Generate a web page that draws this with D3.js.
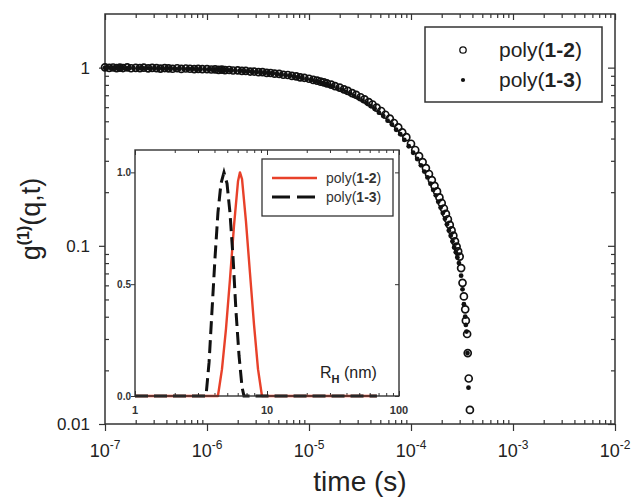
<!DOCTYPE html>
<html><head><meta charset="utf-8">
<script src="https://cdn.jsdelivr.net/npm/d3@7"></script>
<style>body{margin:0;background:#fff}svg{display:block;font-family:Arial,'Liberation Sans',sans-serif}</style>
</head><body>
<script>
// ---------- DATA ----------
// poly(1-2) (open circles): correlator delay times (s) and g1 values
const time12 = [
1.0e-7,1.1e-7,1.2e-7,1.3e-7,1.4e-7,1.5e-7,1.65e-7,1.8e-7,2.0e-7,2.2e-7,2.4e-7,2.65e-7,2.9e-7,3.2e-7,3.5e-7,3.85e-7,4.2e-7,4.6e-7,5.1e-7,5.6e-7,6.2e-7,6.8e-7,7.5e-7,8.2e-7,9.0e-7,
1.0e-6,1.1e-6,1.2e-6,1.3e-6,1.4e-6,1.5e-6,1.65e-6,1.8e-6,2.0e-6,2.2e-6,2.4e-6,2.65e-6,2.9e-6,3.2e-6,3.5e-6,3.85e-6,4.2e-6,4.6e-6,5.1e-6,5.6e-6,6.2e-6,6.8e-6,7.5e-6,8.2e-6,9.0e-6,
1.0e-5,1.1e-5,1.2e-5,1.3e-5,1.4e-5,1.5e-5,1.65e-5,1.8e-5,2.0e-5,2.2e-5,2.4e-5,2.65e-5,2.9e-5,3.2e-5,3.5e-5,3.85e-5,4.2e-5,4.6e-5,5.1e-5,5.6e-5,6.2e-5,6.8e-5,7.5e-5,8.2e-5,9.0e-5,
1.0e-4,1.1e-4,1.2e-4,1.3e-4,1.4e-4,1.5e-4,1.6e-4,1.7e-4,1.8e-4,1.9e-4,2.0e-4,2.1e-4,2.2e-4,2.3e-4,2.4e-4,2.5e-4,2.6e-4,2.7e-4,2.8e-4,2.9e-4,3.0e-4,
3.1e-4,3.2e-4,3.3e-4,3.4e-4,3.45e-4,3.55e-4,3.6e-4,3.68e-4,3.78e-4
];
const g12 = [
1.004,0.996,1.002,0.993,0.999,0.995,1.003,0.992,0.997,0.994,0.999,0.990,0.996,0.993,0.988,0.995,0.991,0.986,0.992,0.984,0.989,0.986,0.981,0.985,0.980,
0.981,0.976,0.977,0.972,0.974,0.969,0.970,0.964,0.965,0.958,0.958,0.951,0.951,0.943,0.943,0.934,0.933,0.925,0.922,0.912,0.909,0.898,0.894,0.882,0.877,
0.866,0.853,0.845,0.834,0.826,0.815,0.803,0.788,0.773,0.755,0.741,0.720,0.704,0.682,0.664,0.640,0.621,0.596,0.571,0.544,0.517,0.489,0.462,0.433,0.407,
0.374,0.345,0.319,0.295,0.273,0.253,0.234,0.217,0.202,0.187,0.174,0.162,0.151,0.141,0.131,0.122,0.114,0.106,0.099,0.093,0.087,
0.075,0.062,0.052,0.044,0.038,0.032,0.025,0.018,0.012
];
// poly(1-3) (filled dots)
const time13 = [
1.0e-7,1.05e-7,1.15e-7,1.25e-7,1.35e-7,1.45e-7,1.57e-7,1.72e-7,1.9e-7,2.1e-7,2.3e-7,2.52e-7,2.77e-7,3.05e-7,3.35e-7,3.67e-7,4.02e-7,4.4e-7,4.85e-7,5.35e-7,5.9e-7,6.5e-7,7.15e-7,7.85e-7,8.6e-7,
9.5e-7,1.05e-6,1.15e-6,1.25e-6,1.35e-6,1.45e-6,1.57e-6,1.72e-6,1.9e-6,2.1e-6,2.3e-6,2.52e-6,2.77e-6,3.05e-6,3.35e-6,3.67e-6,4.02e-6,4.4e-6,4.85e-6,5.35e-6,5.9e-6,6.5e-6,7.15e-6,7.85e-6,8.6e-6,
9.5e-6,1.05e-5,1.15e-5,1.25e-5,1.35e-5,1.45e-5,1.57e-5,1.72e-5,1.9e-5,2.1e-5,2.3e-5,2.52e-5,2.77e-5,3.05e-5,3.35e-5,3.67e-5,4.02e-5,4.4e-5,4.85e-5,5.35e-5,5.9e-5,6.5e-5,7.15e-5,7.85e-5,8.6e-5,
9.5e-5,1.05e-4,1.15e-4,1.25e-4,1.35e-4,1.45e-4,1.55e-4,1.65e-4,1.75e-4,1.85e-4,1.95e-4,2.05e-4,2.15e-4,2.25e-4,2.35e-4,2.45e-4,2.55e-4,2.65e-4,2.75e-4,2.85e-4,2.95e-4,
3.1e-4,3.2e-4,3.3e-4,3.4e-4,3.45e-4,3.5e-4,3.58e-4,3.66e-4
];
const g13 = [
0.998,1.001,0.994,0.998,0.992,0.997,0.991,0.996,0.993,0.989,0.995,0.991,0.988,0.993,0.990,0.985,0.990,0.987,0.983,0.988,0.983,0.980,0.985,0.979,0.981,
0.977,0.978,0.973,0.975,0.970,0.971,0.966,0.967,0.961,0.960,0.954,0.954,0.947,0.946,0.939,0.937,0.930,0.928,0.918,0.915,0.905,0.901,0.890,0.885,0.873,
0.860,0.851,0.838,0.831,0.819,0.812,0.795,0.784,0.765,0.750,0.732,0.714,0.694,0.676,0.653,0.633,0.609,0.588,0.559,0.535,0.504,0.480,0.448,0.423,0.393,
0.362,0.333,0.307,0.283,0.261,0.242,0.223,0.206,0.192,0.177,0.164,0.153,0.142,0.132,0.122,0.114,0.106,0.098,0.092,0.086,0.080,
0.068,0.057,0.047,0.040,0.036,0.033,0.025,0.016
];

// inset: hydrodynamic radius distributions
const rh12  = [1,4.25,4.56,4.89,5.24,5.62,6.03,6.24,6.47,6.93,7.43,7.97,8.55,9.16,68];
const dist12= [0,0,0.12,0.30,0.52,0.76,0.96,1.00,0.97,0.78,0.55,0.32,0.12,0,0];
const rh13  = [1,3.45,3.64,3.83,4.04,4.25,4.48,4.72,4.98,5.24,5.53,5.82,6.14,6.47,6.69,68];
const dist13= [0,0,0.15,0.38,0.62,0.82,0.95,1.00,0.95,0.82,0.62,0.38,0.18,0.04,0,0];

const seriesNames = ["1-2","1-3"];
const xMajorExp = [-7,-6,-5,-4,-3,-2];
const yMajor = [0.01,0.1,1];
const yMajorLabels = ["0.01","0.1","1"];
const insetXMajor = [1,10,100];
const insetXLabels = ["1","10","100"];
const insetYMajor = [0,0.5,1.0];
const insetYLabels = ["0.0","0.5","1.0"];

// ---------- CHART ----------
const W=632,H=499;
const svg=d3.select("body").append("svg").attr("width",W).attr("height",H);
const L=105,R=615,T=14,B=424;
const x=d3.scaleLog().domain([1e-7,1e-2]).range([L,R]);
const y=d3.scaleLog().domain([0.01,2]).range([B,T]);
const ink="#222", frame="#333";

function minorLog(e0,e1){const a=[];for(let e=e0;e<e1;e++)for(let m=2;m<=9;m++)a.push(m*Math.pow(10,e));return a;}
const xMajor=xMajorExp.map(e=>Math.pow(10,e));
const xMinor=minorLog(-7,-2);
const yMinor=minorLog(-2,0);

function ax(gen,scale,vals,size,tr){
  const g=svg.append("g").attr("transform",tr).call(gen(scale).tickValues(vals).tickSize(size).tickFormat(""));
  g.select(".domain").remove();
  g.selectAll("line").attr("stroke",frame).attr("stroke-width",1.2);
  return g;
}
ax(d3.axisBottom,x,xMajor,7,`translate(0,${B})`);
ax(d3.axisBottom,x,xMinor,-4,`translate(0,${B})`);
ax(d3.axisTop,x,xMajor,-6,`translate(0,${T})`);
ax(d3.axisTop,x,xMinor,-4,`translate(0,${T})`);
ax(d3.axisLeft,y,yMajor,6,`translate(${L},0)`);
ax(d3.axisLeft,y,yMinor,-4,`translate(${L},0)`);
ax(d3.axisRight,y,yMajor,-7,`translate(${R},0)`);
ax(d3.axisRight,y,yMinor,-4,`translate(${R},0)`);

svg.append("rect").attr("x",L).attr("y",T).attr("width",R-L).attr("height",B-T)
  .attr("fill","none").attr("stroke",frame).attr("stroke-width",1.5);

svg.selectAll(".ylab").data(yMajor).enter().append("text")
  .attr("x",L-15).attr("y",d=>y(d)).attr("dy","0.36em").attr("text-anchor","end")
  .attr("font-size",17).attr("fill",ink).text((d,i)=>yMajorLabels[i]);
const xl=svg.selectAll(".xlab").data(xMajorExp).enter().append("text")
  .attr("x",d=>x(Math.pow(10,d))).attr("y",B+33).attr("text-anchor","middle")
  .attr("font-size",18).attr("fill",ink);
xl.append("tspan").text("10");
xl.append("tspan").attr("font-size",12).attr("dy",-8).text(d=>"-"+Math.abs(d));

svg.append("text").attr("x",(L+R)/2).attr("y",491).attr("text-anchor","middle")
  .attr("font-size",28).attr("fill",ink).text("time (s)");
const yt=svg.append("text").attr("transform",`translate(40,${(T+B)/2}) rotate(-90)`)
  .attr("text-anchor","middle").attr("font-size",27).attr("fill",ink);
yt.append("tspan").text("g");
yt.append("tspan").attr("font-size",16).attr("font-weight","bold").attr("dy",-11).text("(1)");
yt.append("tspan").attr("dy",11).text("(q,t)");

// data
const plot=svg.append("g");
const d12=time12.map((t,i)=>[t,g12[i]]);
const d13=time13.map((t,i)=>[t,g13[i]]);
plot.selectAll(".c").data(d12).enter().append("circle")
  .attr("cx",d=>x(d[0])).attr("cy",d=>y(d[1])).attr("r",3.5)
  .attr("fill","none").attr("stroke","#111").attr("stroke-width",1.7);
plot.selectAll(".d").data(d13).enter().append("circle")
  .attr("cx",d=>x(d[0])).attr("cy",d=>y(d[1])).attr("r",2.4)
  .attr("fill","#111");

// main legend
svg.append("rect").attr("x",425).attr("y",27).attr("width",177).attr("height",75)
  .attr("fill","#fff").attr("stroke",frame).attr("stroke-width",1.5);
svg.append("circle").attr("cx",463).attr("cy",50).attr("r",3.2).attr("fill","none").attr("stroke","#111").attr("stroke-width",1.3);
svg.append("circle").attr("cx",463).attr("cy",80).attr("r",2.1).attr("fill","#111");
seriesNames.forEach((s,i)=>{
  const t=svg.append("text").attr("x",499).attr("y",57+i*30).attr("font-size",21).attr("fill",ink);
  t.append("tspan").text("poly(");
  t.append("tspan").attr("font-weight","bold").text(s);
  t.append("tspan").text(")");
});

// ---------- INSET ----------
const iL=135,iR=399,iT=150,iB=396;
const xi=d3.scaleLog().domain([1,100]).range([iL,iR]);
const yi=d3.scaleLinear().domain([0,1.1]).range([iB,iT]);
svg.append("rect").attr("x",iL).attr("y",iT).attr("width",iR-iL).attr("height",iB-iT).attr("fill","#fff");
const xiMinor=minorLog(0,2);
function axi(gen,scale,vals,size,tr){
  const g=svg.append("g").attr("transform",tr).call(gen(scale).tickValues(vals).tickSize(size).tickFormat(""));
  g.select(".domain").remove();
  g.selectAll("line").attr("stroke",frame).attr("stroke-width",1);
}
axi(d3.axisTop,xi,xiMinor,-3,`translate(0,${iT})`);
axi(d3.axisTop,xi,insetXMajor,-5,`translate(0,${iT})`);
axi(d3.axisBottom,xi,xiMinor,-3,`translate(0,${iB})`);
axi(d3.axisBottom,xi,insetXMajor,-5,`translate(0,${iB})`);
axi(d3.axisLeft,yi,insetYMajor,4,`translate(${iL},0)`);
axi(d3.axisRight,yi,insetYMajor,-4,`translate(${iR},0)`);

const line=d3.line().x(d=>xi(d[0])).y(d=>yi(d[1]));
svg.append("path").datum(rh12.map((r,i)=>[r,dist12[i]])).attr("d",line)
  .attr("fill","none").attr("stroke","#e8412a").attr("stroke-width",2.4).attr("stroke-linejoin","round");
svg.append("path").datum(rh13.map((r,i)=>[r,dist13[i]])).attr("d",line)
  .attr("fill","none").attr("stroke","#111").attr("stroke-width",3).attr("stroke-dasharray","13,6");

svg.append("rect").attr("x",iL).attr("y",iT).attr("width",iR-iL).attr("height",iB-iT)
  .attr("fill","none").attr("stroke",frame).attr("stroke-width",1.4);

svg.selectAll(".iyl").data(insetYMajor).enter().append("text")
  .attr("x",iL-4).attr("y",d=>yi(d)).attr("dy","0.35em").attr("text-anchor","end")
  .attr("font-size",10).attr("font-weight","bold").attr("fill","#333").text((d,i)=>insetYLabels[i]);
svg.selectAll(".ixl").data(insetXMajor).enter().append("text")
  .attr("x",d=>xi(d)).attr("y",iB+18).attr("text-anchor","middle")
  .attr("font-size",11).attr("font-weight","bold").attr("fill","#333").text((d,i)=>insetXLabels[i]);

const rl=svg.append("text").attr("x",320).attr("y",378).attr("font-size",16).attr("fill",ink);
rl.append("tspan").text("R");
rl.append("tspan").attr("font-size",11).attr("font-weight","bold").attr("dy",5).text("H");
rl.append("tspan").attr("dy",-5).text(" (nm)");

// inset legend
svg.append("rect").attr("x",262).attr("y",159).attr("width",131).attr("height",57)
  .attr("fill","#fff").attr("stroke",frame).attr("stroke-width",1.3);
svg.append("line").attr("x1",272).attr("x2",317).attr("y1",178).attr("y2",178)
  .attr("stroke","#e8412a").attr("stroke-width",2.4);
svg.append("line").attr("x1",272).attr("x2",317).attr("y1",197).attr("y2",197)
  .attr("stroke","#111").attr("stroke-width",3).attr("stroke-dasharray","18,7");
seriesNames.forEach((s,i)=>{
  const t=svg.append("text").attr("x",326).attr("y",183+i*19).attr("font-size",14).attr("fill","#333");
  t.append("tspan").text("poly(");
  t.append("tspan").attr("font-weight","bold").text(s);
  t.append("tspan").text(")");
});
</script>
</body></html>
